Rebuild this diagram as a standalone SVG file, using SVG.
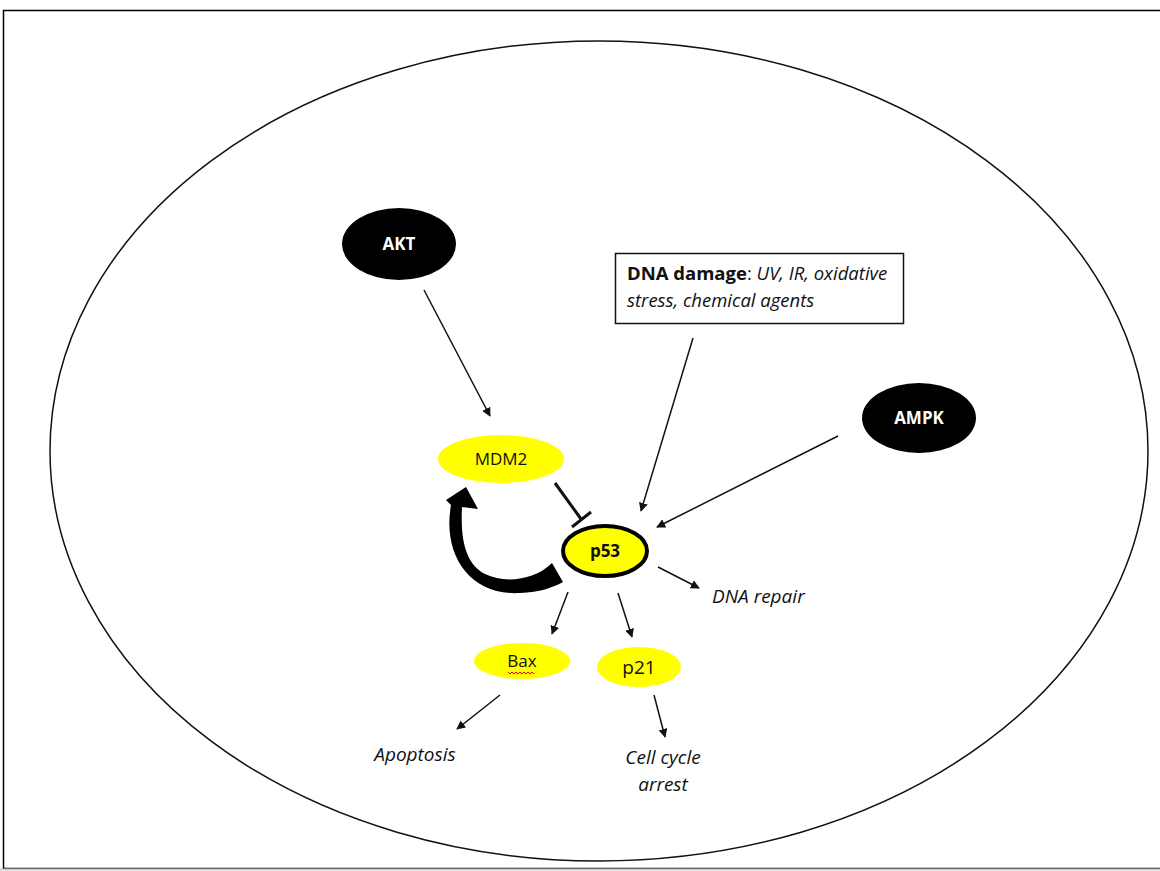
<svg xmlns="http://www.w3.org/2000/svg" width="1160" height="871" viewBox="0 0 1160 871">
<style>
.t{font-family:"Open Sans","Liberation Sans",sans-serif;font-size:17px;fill:#111}
.it{font-style:italic;font-size:19px}
.w{fill:#fff;font-size:17px;font-weight:bold}
.c{stroke:#111;stroke-width:1.5;fill:none}
.blk{fill:#000}
.yel{fill:#ffff00}
</style>
<defs>
<marker id="ah" viewBox="0 0 10 10" refX="9" refY="5" markerWidth="9" markerHeight="9" markerUnits="userSpaceOnUse" orient="auto">
<path d="M0,0 L10,5 L0,10 z" fill="#111"/>
</marker>
</defs>
<rect x="0" y="0" width="1160" height="871" fill="#fff"/>
<rect x="3.5" y="10.5" width="1160" height="858" fill="none" stroke="#000" stroke-width="1.5"/>
<line x1="0" y1="869.5" x2="1160" y2="869.5" stroke="#ccc" stroke-width="2"/>
<g id="cell"><ellipse cx="599" cy="451" rx="549" ry="410" fill="none" stroke="#111" stroke-width="1.5"/></g>

<g id="connectors">
<line class="c" x1="424" y1="290" x2="490" y2="416" marker-end="url(#ah)"/>
<line class="c" x1="693" y1="338" x2="641" y2="511" marker-end="url(#ah)"/>
<line class="c" x1="838" y1="436" x2="657" y2="527" marker-end="url(#ah)"/>
<line class="c" x1="658" y1="567" x2="699" y2="588" marker-end="url(#ah)"/>
<line class="c" x1="568" y1="592" x2="552" y2="634" marker-end="url(#ah)"/>
<line class="c" x1="618" y1="593" x2="632" y2="637" marker-end="url(#ah)"/>
<line class="c" x1="500" y1="695" x2="457" y2="729" marker-end="url(#ah)"/>
<line class="c" x1="654" y1="695" x2="665" y2="737" marker-end="url(#ah)"/>
<g id="inhibit" stroke="#111" stroke-width="3" fill="none">
<line x1="555" y1="483" x2="581" y2="519"/>
<line x1="572" y1="527" x2="591" y2="512"/>
</g>
<path id="feedback" class="blk" d="M552,563 C535,580 505,584 485,574 C468,565 460,545 462,507 L478,509 L466,487 L446,500 L451,505 C442,555 470,596 520,593 C540,592 552,588 563,582 Z"/>
</g>

<g id="akt"><ellipse class="blk" cx="399" cy="244" rx="57" ry="36"/><text class="t w" x="399" y="250" text-anchor="middle">AKT</text></g>
<g id="ampk"><ellipse class="blk" cx="919" cy="418" rx="57" ry="35"/><text class="t w" x="919" y="424" text-anchor="middle">AMPK</text></g>
<g id="dna-damage"><rect x="615.5" y="253.5" width="288" height="70" fill="#fff" stroke="#111" stroke-width="1.5"/>
<text class="t" x="627" y="280" style="font-size:18.5px"><tspan font-weight="bold">DNA damage</tspan>: <tspan font-style="italic">UV, IR, oxidative</tspan></text>
<text class="t" x="627" y="307" style="font-size:18.5px;font-style:italic">stress, chemical agents</text></g>
<g id="mdm2"><ellipse class="yel" cx="501" cy="459" rx="63" ry="24"/><text class="t" x="501" y="465" text-anchor="middle">MDM2</text></g>
<g id="p53"><ellipse class="yel" cx="605" cy="551" rx="42" ry="25" stroke="#000" stroke-width="4"/><text class="t" x="605" y="557" text-anchor="middle" font-weight="bold">p53</text></g>
<g id="bax"><ellipse class="yel" cx="522" cy="661" rx="48" ry="18"/><text class="t" x="522" y="667" text-anchor="middle">Bax</text>
<path d="M508,672 l2,2 l2,-2 l2,2 l2,-2 l2,2 l2,-2 l2,2 l2,-2 l2,2 l2,-2 l2,2 l2,-2 l2,2" fill="none" stroke="#e00" stroke-width="1"/></g>
<g id="p21"><ellipse class="yel" cx="639" cy="667" rx="42" ry="20"/><text class="t" x="639" y="674" text-anchor="middle" style="font-size:19px">p21</text></g>
<g id="dna-repair"><text class="t it" x="712" y="603">DNA repair</text></g>
<g id="apoptosis"><text class="t it" x="415" y="761" text-anchor="middle">Apoptosis</text></g>
<g id="arrest"><text class="t it" x="663" y="764" text-anchor="middle">Cell cycle</text><text class="t it" x="663" y="791" text-anchor="middle">arrest</text></g>
</svg>
